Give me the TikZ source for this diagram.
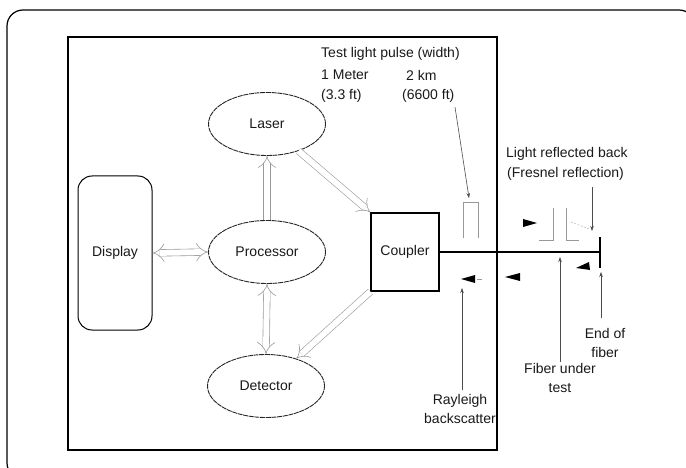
\documentclass[tikz,border=0pt]{standalone}
\usepackage{fontspec}
\setmainfont{Liberation Sans}
\usetikzlibrary{shapes.geometric,arrows.meta}
\begin{document}
\begin{tikzpicture}[x=1pt,y=-1pt,
  txt/.style={font=\fontsize{14}{19}\selectfont, text=black!90, inner sep=1pt},
  ell/.style={ellipse, draw=black!85, line width=0.9pt, dash pattern=on 5pt off 0.7pt,
              minimum width=117pt, minimum height=63pt, inner sep=0pt, txt},
  dbl/.style={draw=black!40, line width=0.6pt, double=white, double distance=6pt},
  lab/.style={draw=black!70, line width=0.6pt, -{Stealth[length=5pt,width=3.5pt]}},
  pulse/.style={draw=black!40, line width=0.7pt},
  tri/.style={fill=black}
]
\useasboundingbox (0,0) rectangle (686,468);
\clip (0,0) rectangle (686,468);
\fill[white] (0,0) rectangle (686,468);
% outer frame
\draw[line width=1.2pt, rounded corners=16pt] (7,10) rectangle (695,479);
% instrument box
\draw[line width=1.6pt] (68,37) rectangle (497,450);

% nodes
\node[ell] (laser) at (267,124) {Laser};
\node[ell] (proc) at (267,252) {Processor};
\node[ell] (det) at (266,386) {Detector};
\node[draw, rounded corners=14pt, line width=1pt, minimum width=74pt, minimum height=154pt, txt] (disp) at (115,253) {Display};
\node[draw, line width=1.4pt, minimum width=68pt, minimum height=78pt, txt] (coup) at (405,252) {Coupler};

% internal connectors
\draw[dbl, {Implies}-{Implies}] (disp.east) -- (proc.west);
\draw[dbl, -{Implies}] (proc.north) -- (laser.south);
\draw[dbl, {Implies}-{Implies}] (proc.south) -- (det.north);
\draw[dbl, -{Implies}] (laser) -- (coup.north west);
\draw[dbl, -{Implies}] (coup.south west) -- (det);

% fiber
\coordinate (fend) at (600,252);
\draw[line width=1.1pt] (coup.east) -- (fend);
\coordinate (capt) at (600,237);
\coordinate (capb) at (600,268);
\draw[line width=1.1pt] (capt) -- (capb);

% test pulse
\draw[pulse] (463,238) -- (463,202) -- (478,202) -- (478,238);
% reflected pulses
\draw[pulse] (539,240) -- (553,240) -- (553,208);
\draw[pulse] (566,208) -- (566,240) -- (579,240);
\draw[draw=black!25, line width=0.6pt, dash pattern=on 2pt off 1.5pt] (571,222) -- (589,229);

% direction triangles
\fill[tri] (537,223) -- (523,219) -- (523,227) -- cycle;
\fill[tri] (461,279) -- (475,275) -- (475,283) -- cycle;
\draw[draw=black!40, line width=0.6pt] (477,279) -- (482,279);
\fill[tri] (505,277) -- (520,273) -- (520,281) -- cycle;
\fill[tri] (576,268) -- (589,262) -- (590,270) -- cycle;

% labels
\node[txt, anchor=west] (t1) at (320,54) {Test light pulse (width)};
\node[txt, anchor=west] (t2) at (320,75) {1 Meter};
\node[txt, anchor=west] (t3) at (405,75) {2 km};
\node[txt, anchor=west] (t4) at (320,96) {(3.3 ft)};
\node[txt, anchor=west] (t5) at (401,96) {(6600 ft)};
\coordinate (ptop) at (469,198);
\coordinate (pstart) at (455,107);
\draw[lab] (pstart) -- (ptop);

\node[txt, anchor=west] (fr1) at (505,154) {Light reflected back};
\node[txt, anchor=west] (fr2) at (506,174) {(Fresnel reflection)};
\coordinate (frs) at (592,187);
\coordinate (frt) at (592,231);
\draw[lab] (frs) -- (frt);

\node[txt, align=center] (ray) at (460,409) {Rayleigh\\backscatter};
\coordinate (rays) at (462,390);
\coordinate (rayt) at (462,288);
\draw[lab] (rays) -- (rayt);

\node[txt, align=center] (fut) at (560,378) {Fiber under\\test};
\coordinate (futs) at (560,362);
\coordinate (futt) at (560,257);
\draw[lab] (futs) -- (futt);

\node[txt, align=center] (eof) at (605,343) {End of\\fiber};
\coordinate (eofs) at (601,318);
\coordinate (eoft) at (601,272);
\draw[lab] (eofs) -- (eoft);
\end{tikzpicture}
\end{document}
